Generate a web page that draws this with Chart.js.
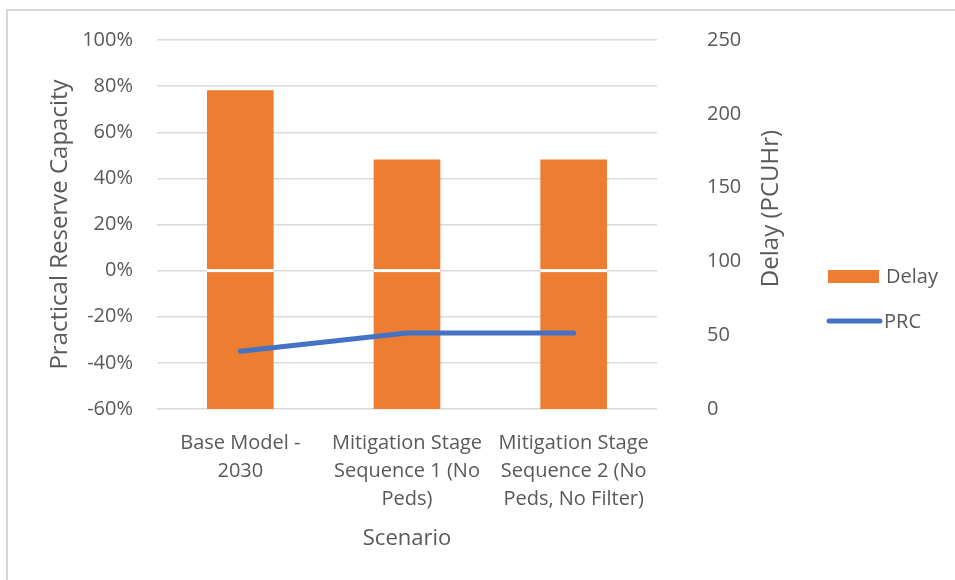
<!DOCTYPE html>
<html>
<head>
<meta charset="utf-8">
<script src="https://cdn.jsdelivr.net/npm/chart.js@4"></script>
<style>
  html, body { margin: 0; padding: 0; background: #fff; }
  #wrap { position: relative; width: 955px; height: 580px; }
  #frame { position: absolute; left: 6px; top: 9px; right: -10px; bottom: -10px;
           border-top: 2px solid #d6d6d6; border-left: 2px solid #d6d6d6; pointer-events: none; }
</style>
</head>
<body>
<div id="wrap">
  <canvas id="c" width="955" height="580"></canvas>
  <div id="frame"></div>
</div>
<script>
// Scenarios compared
const scenarios = [
  ["Base Model -", "2030"],
  ["Mitigation Stage", "Sequence 1 (No", "Peds)"],
  ["Mitigation Stage", "Sequence 2 (No", "Peds, No Filter)"]
];
// Total delay per scenario (PCUHr)
const delay = [216, 169, 169];
// Practical reserve capacity per scenario (%)
const prc = [-35, -27, -27];

const FONT = "'Open Sans', sans-serif";
const TEXT = '#595959';
const ORANGE = '#ED7D31';
const BLUE = '#4472C4';

// Right-axis title (reads bottom-to-top) and the legend on the right side
const extras = {
  id: 'extras',
  afterDatasetsDraw(chart) {
    const ctx = chart.ctx;
    const y0 = chart.scales.y.getPixelForValue(0);
    // thin white break across the bars at the 0% line
    const meta = chart.getDatasetMeta(0);
    ctx.save();
    ctx.fillStyle = '#ffffff';
    meta.data.forEach(bar => {
      ctx.fillRect(bar.x - bar.width / 2, y0 - 1.5, bar.width, 3);
    });
    ctx.restore();
  },
  afterDraw(chart) {
    const ctx = chart.ctx;
    const area = chart.chartArea;
    ctx.save();
    // secondary axis title
    ctx.fillStyle = TEXT;
    ctx.font = "24px " + FONT;
    ctx.textAlign = 'center';
    ctx.textBaseline = 'middle';
    ctx.translate(area.right + 114, (area.top + area.bottom) / 2 - 16);
    ctx.rotate(-Math.PI / 2);
    ctx.fillText('Delay (PCUHr)', 0, 0);
    ctx.restore();

    // legend
    ctx.save();
    const lx = area.right + 171;
    ctx.font = "20px " + FONT;
    ctx.textBaseline = 'middle';
    ctx.textAlign = 'left';
    ctx.fillStyle = chart.data.datasets[0].backgroundColor;
    ctx.fillRect(lx, 270, 51, 13);
    ctx.fillStyle = TEXT;
    ctx.fillText(chart.data.datasets[0].label, lx + 58, 277);
    ctx.strokeStyle = chart.data.datasets[1].borderColor;
    ctx.lineWidth = 5;
    ctx.lineCap = 'round';
    ctx.beginPath();
    ctx.moveTo(lx + 1, 321);
    ctx.lineTo(lx + 52, 321);
    ctx.stroke();
    ctx.fillText(chart.data.datasets[1].label, lx + 56, 322);
    ctx.restore();
  }
};

new Chart(document.getElementById('c'), {
  data: {
    labels: scenarios,
    datasets: [
      {
        type: 'bar',
        label: 'Delay',
        data: delay,
        yAxisID: 'y1',
        backgroundColor: ORANGE,
        categoryPercentage: 1.0,
        barPercentage: 0.4,
        order: 1
      },
      {
        type: 'line',
        label: 'PRC',
        data: prc,
        yAxisID: 'y',
        borderColor: BLUE,
        backgroundColor: BLUE,
        borderWidth: 5,
        pointRadius: 0,
        tension: 0,
        borderCapStyle: 'round',
        borderJoinStyle: 'round',
        order: 0
      }
    ]
  },
  options: {
    responsive: false,
    animation: false,
    layout: { padding: { left: 36, top: 40, right: 158, bottom: 28 } },
    plugins: { legend: { display: false }, tooltip: { enabled: false } },
    scales: {
      x: {
        grid: { display: false },
        border: { display: false },
        ticks: { color: TEXT, font: { family: FONT, size: 20, lineHeight: 1.4 }, padding: 12, maxRotation: 0, autoSkip: false },
        title: { display: true, text: 'Scenario', color: TEXT, font: { family: FONT, size: 22 }, padding: { top: 10, bottom: 0 } },
        afterFit(s) { s.height = 143; }
      },
      y: {
        position: 'left',
        min: -60, max: 100,
        ticks: { stepSize: 20, color: TEXT, font: { family: FONT, size: 20 }, padding: 24, callback: v => v + '%' },
        grid: { color: '#d9d9d9', lineWidth: 1.5, drawTicks: false },
        border: { display: false },
        title: { display: true, text: 'Practical Reserve Capacity', color: TEXT, font: { family: FONT, size: 24 }, padding: { top: 10, bottom: 0 } },
        afterFit(s) { s.width = 121; s.paddingTop = 0; s.paddingBottom = 0; }
      },
      y1: {
        position: 'right',
        min: 0, max: 250,
        ticks: { stepSize: 50, color: TEXT, font: { family: FONT, size: 20 }, padding: 50 },
        grid: { display: false, drawTicks: false },
        border: { display: false },
        afterFit(s) { s.width = 140; s.paddingTop = 0; s.paddingBottom = 0; }
      }
    }
  },
  plugins: [extras]
});
</script>
</body>
</html>
